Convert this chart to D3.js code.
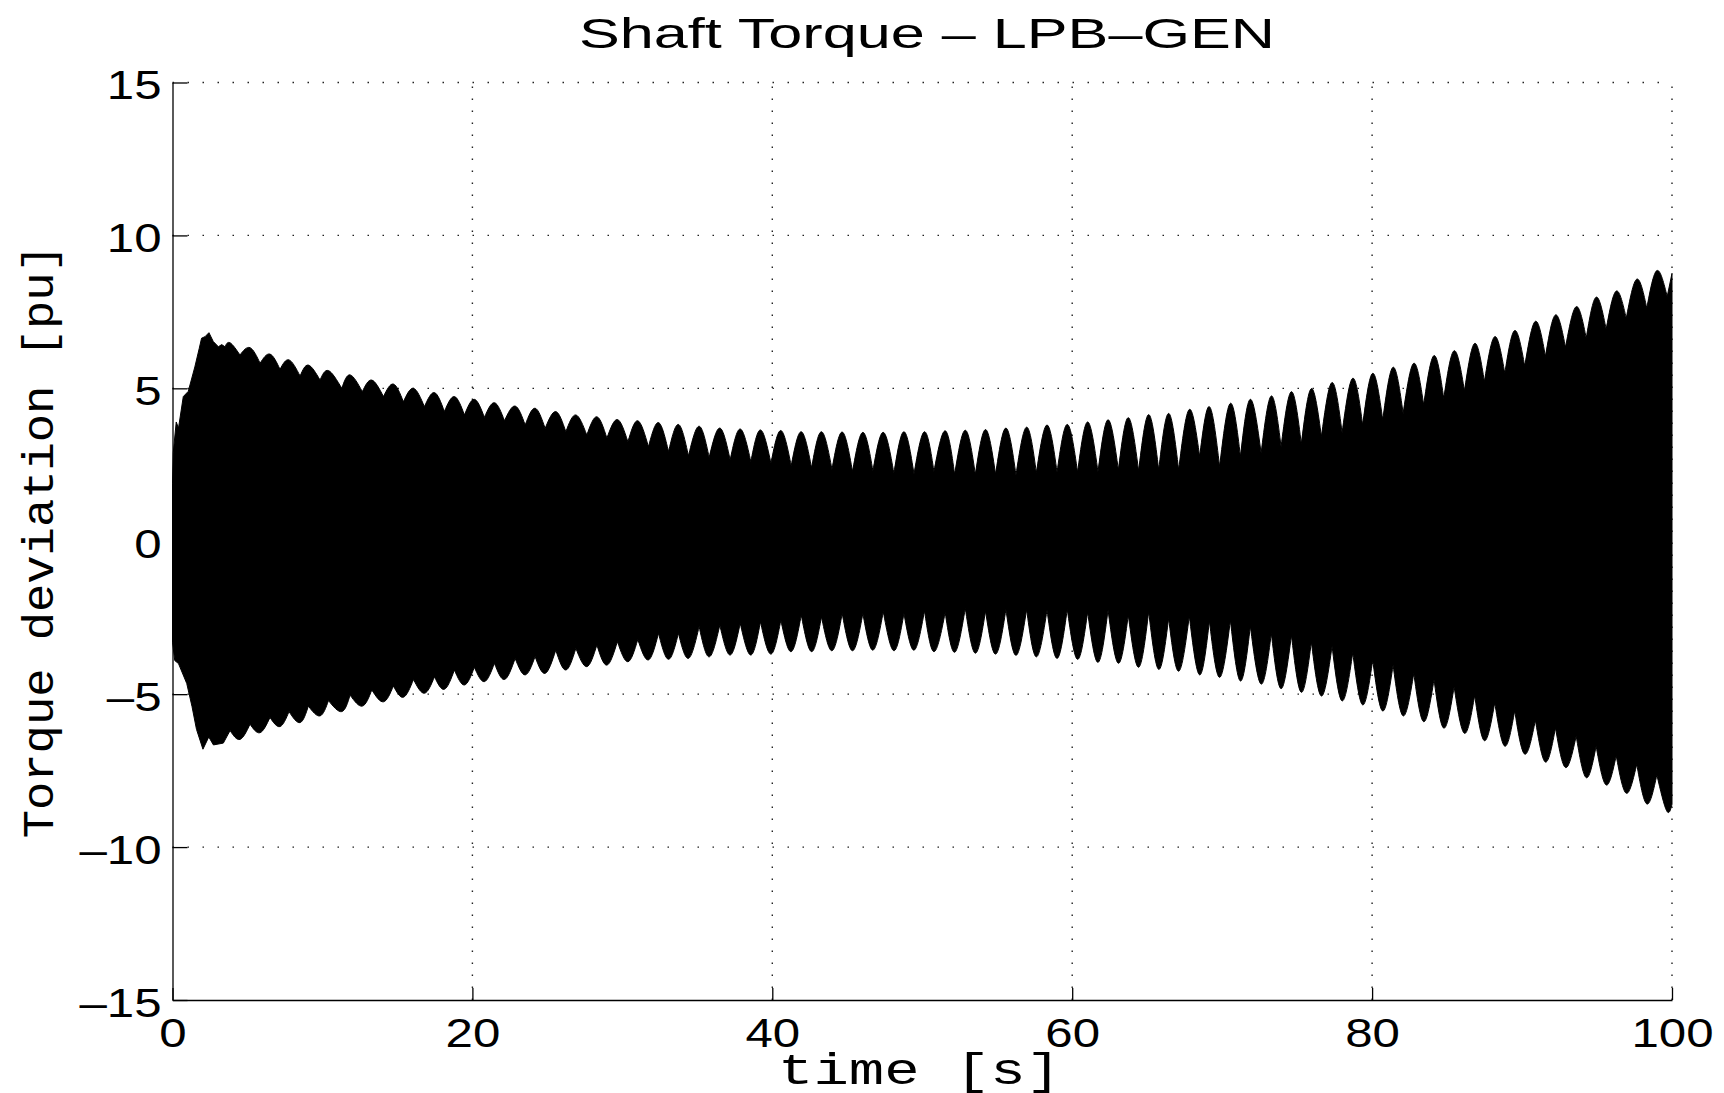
<!DOCTYPE html>
<html>
<head>
<meta charset="utf-8">
<script src="https://cdn.jsdelivr.net/npm/d3@7"></script>
<style>
  body { margin: 0; background: #ffffff; }
  svg { display: block; }
</style>
</head>
<body>
<div id="chart"></div>
<script>
// Axis ticks
const xTicks = [0, 20, 40, 60, 80, 100];
const yTicks = [-15, -10, -5, 0, 5, 10, 15];

// Beat instants (s): top arch peaks / bottom cusps
const beatTime = [3.84, 5.17, 6.50, 7.77, 9.06, 10.40, 11.84, 13.29, 14.73, 16.07, 17.47, 18.80, 20.13, 21.47,
  22.85, 24.18, 25.56, 26.90, 28.30, 29.67, 31.03, 32.41, 33.74, 35.12, 36.50, 37.86, 39.21, 40.57, 41.93,
  43.28, 44.66, 46.04, 47.40, 48.78, 50.15, 51.53, 52.87, 54.22, 55.58, 56.96, 58.32, 59.67, 61.03, 62.39,
  63.74, 65.10, 66.43, 67.81, 69.15, 70.55, 71.88, 73.28, 74.62, 75.95, 77.33, 78.71, 80.04, 81.40, 82.78,
  84.13, 85.47, 86.84, 88.18, 89.51, 90.89, 92.23, 93.61, 94.94, 96.28, 97.65, 98.99];
const topPeak = [6.49, 6.33, 6.12, 5.93, 5.76, 5.58, 5.44, 5.27, 5.14, 5.00, 4.86, 4.73, 4.64, 4.53, 4.42,
  4.35, 4.24, 4.13, 4.07, 3.98, 3.94, 3.88, 3.82, 3.76, 3.70, 3.67, 3.64, 3.62, 3.58, 3.58, 3.57, 3.56, 3.56,
  3.58, 3.58, 3.61, 3.63, 3.65, 3.70, 3.73, 3.80, 3.82, 3.90, 3.97, 4.04, 4.14, 4.18, 4.31, 4.40, 4.51, 4.64,
  4.75, 4.89, 4.99, 5.19, 5.33, 5.49, 5.69, 5.82, 6.07, 6.23, 6.47, 6.69, 6.89, 7.19, 7.40, 7.67, 7.98, 8.18,
  8.57, 8.85];
const bottomCusp = [-6.19, -5.98, -5.76, -5.57, -5.39, -5.21, -5.03, -4.86, -4.73, -4.52, -4.43, -4.21, -4.12,
  -3.99, -3.83, -3.77, -3.56, -3.50, -3.39, -3.28, -3.21, -3.01, -3.01, -2.79, -2.74, -2.68, -2.63, -2.58,
  -2.41, -2.47, -2.36, -2.36, -2.30, -2.36, -2.27, -2.33, -2.19, -2.28, -2.23, -2.23, -2.25, -2.22, -2.31,
  -2.25, -2.41, -2.30, -2.52, -2.44, -2.60, -2.58, -2.77, -3.01, -3.07, -3.29, -3.43, -3.64, -3.88, -4.05,
  -4.32, -4.52, -4.76, -5.04, -5.28, -5.54, -5.85, -6.10, -6.37, -6.70, -7.01, -7.29, -7.64];

// Instants between beats (s): top notches / bottom troughs
const gapTime = [4.50, 5.84, 7.17, 8.51, 9.84, 11.29, 12.66, 14.07, 15.40, 16.80, 18.13, 19.47, 20.80, 22.14,
  23.52, 24.85, 26.23, 27.63, 28.97, 30.37, 31.74, 33.08, 34.41, 35.79, 37.19, 38.57, 39.91, 41.26, 42.62,
  43.98, 45.35, 46.71, 48.11, 49.45, 50.78, 52.16, 53.54, 54.89, 56.25, 57.61, 58.99, 60.36, 61.72, 63.08,
  64.43, 65.77, 67.10, 68.50, 69.83, 71.22, 72.60, 73.93, 75.28, 76.62, 78.00, 79.37, 80.71, 82.07, 83.44,
  84.78, 86.16, 87.49, 88.85, 90.18, 91.56, 92.90, 94.28, 95.61, 96.95, 98.32];
const topNotch = [6.09, 5.82, 5.62, 5.40, 5.27, 5.00, 4.89, 4.73, 4.56, 4.40, 4.24, 4.13, 4.05, 3.94, 3.80,
  3.69, 3.58, 3.47, 3.37, 3.25, 3.09, 2.93, 2.79, 2.74, 2.66, 2.60, 2.55, 2.47, 2.40, 2.35, 2.28, 2.30, 2.22,
  2.20, 2.28, 2.19, 2.19, 2.19, 2.17, 2.24, 2.26, 2.26, 2.27, 2.33, 2.30, 2.33, 2.33, 2.77, 2.44, 2.77, 2.88,
  3.09, 3.18, 3.42, 3.55, 3.80, 3.97, 4.18, 4.46, 4.67, 4.92, 5.22, 5.49, 5.73, 6.04, 6.34, 6.64, 6.93, 7.29,
  7.62];
const bottomTrough = [-6.48, -6.26, -6.06, -5.93, -5.71, -5.57, -5.39, -5.25, -5.10, -4.97, -4.84, -4.70,
  -4.59, -4.52, -4.37, -4.32, -4.21, -4.10, -4.05, -3.94, -3.88, -3.86, -3.83, -3.78, -3.72, -3.72, -3.69,
  -3.61, -3.61, -3.58, -3.58, -3.56, -3.58, -3.56, -3.61, -3.63, -3.66, -3.69, -3.73, -3.78, -3.83, -3.86,
  -3.96, -3.99, -4.12, -4.19, -4.25, -4.37, -4.45, -4.57, -4.67, -4.82, -4.94, -5.06, -5.22, -5.35, -5.55,
  -5.71, -5.90, -6.11, -6.28, -6.52, -6.70, -6.96, -7.22, -7.40, -7.73, -7.97, -8.24, -8.59];

// Start-up transient and end of record [time, value]
const startTop = [[0, 1.9], [0.05, 2.9], [0.25, 3.9], [0.4, 3.7], [0.72, 4.73], [1.05, 4.9], [1.49, 5.7],
  [1.78, 6.3], [1.94, 6.64], [2.17, 6.69], [2.43, 6.82], [2.72, 6.53], [3.06, 6.36], [3.28, 6.43], [3.5, 6.36]];
const startBottom = [[0, -3.3], [0.15, -3.9], [0.4, -4.0], [0.95, -4.65], [1.3, -5.4], [1.6, -6.15],
  [2.03, -6.8], [2.42, -6.4], [2.73, -6.66], [3.39, -6.6]];
const endTop = [[99.68, 8.00], [100, 8.76]];
const endBottom = [[99.64, -8.81], [100, -8.6]];

function drawChart() {
  const width = 1724;
  const height = 1093;
  const margin = { top: 82.5, right: 52, bottom: 93, left: 172.5 };

  const svg = d3.select("#chart")
    .append("svg")
    .attr("width", width)
    .attr("height", height)
    .style("background", "#ffffff");

  const x = d3.scaleLinear()
    .domain([0, 100])
    .range([margin.left, width - margin.right]);

  const y = d3.scaleLinear()
    .domain([-15, 15])
    .range([height - margin.bottom, margin.top]);

  const sans = "'Liberation Sans', Arial, Helvetica, sans-serif";
  const mono = "'Liberation Mono', 'Courier New', monospace";

  // stretch text horizontally like the original export
  function stretch(sel, factor) {
    sel.each(function () {
      const len = this.getComputedTextLength();
      d3.select(this)
        .attr("textLength", len * factor)
        .attr("lengthAdjust", "spacingAndGlyphs");
    });
  }

  // Dotted grid
  svg.append("g")
    .selectAll("line")
    .data(xTicks.filter(d => d > 0))
    .join("line")
    .attr("x1", d => x(d))
    .attr("x2", d => x(d))
    .attr("y1", y(-15))
    .attr("y2", y(15))
    .attr("stroke", "#222")
    .attr("stroke-width", 1.4)
    .attr("stroke-dasharray", "1.5,10.5");

  svg.append("g")
    .selectAll("line")
    .data(yTicks.filter(d => d > -15))
    .join("line")
    .attr("x1", x(0))
    .attr("x2", x(100))
    .attr("y1", d => y(d))
    .attr("y2", d => y(d))
    .attr("stroke", "#222")
    .attr("stroke-width", 1.4)
    .attr("stroke-dasharray", "1.5,13.5");

  // Signal band: rounded arches between sharp cusps
  const line = d3.line().x(d => x(d[0])).y(d => y(d[1]));
  const seg = (pts, curve) => line.curve(curve)(pts);

  const topSegs = [];
  topSegs.push({ pts: startTop, curve: d3.curveLinear });
  topSegs.push({ pts: [startTop[startTop.length - 1], [beatTime[0], topPeak[0]], [gapTime[0], topNotch[0]]], curve: d3.curveNatural });
  for (let i = 1; i < beatTime.length; i++) {
    const next = i < gapTime.length ? [gapTime[i], topNotch[i]] : endTop[0];
    topSegs.push({ pts: [[gapTime[i - 1], topNotch[i - 1]], [beatTime[i], topPeak[i]], next], curve: d3.curveNatural });
  }
  topSegs.push({ pts: endTop, curve: d3.curveLinear });

  const bottomSegs = [];
  bottomSegs.push({ pts: startBottom.concat([[beatTime[0], bottomCusp[0]]]), curve: d3.curveLinear });
  for (let i = 0; i < beatTime.length; i++) {
    const trough = i < gapTime.length ? [gapTime[i], bottomTrough[i]] : endBottom[0];
    const next = i < gapTime.length ? [beatTime[i + 1], bottomCusp[i + 1]] : endBottom[1];
    bottomSegs.push({ pts: [[beatTime[i], bottomCusp[i]], trough, next], curve: d3.curveNatural });
  }

  let d = "";
  topSegs.forEach((s, i) => {
    const p = seg(s.pts, s.curve);
    d += i === 0 ? p : p.replace(/^M/, "L");
  });
  bottomSegs.slice().reverse().forEach(s => {
    d += seg(s.pts.slice().reverse(), s.curve).replace(/^M/, "L");
  });
  d += "Z";

  svg.append("path")
    .attr("d", d)
    .attr("fill", "#000")
    .attr("stroke", "#000")
    .attr("stroke-width", 1)
    .attr("stroke-linejoin", "round");

  // Axes (inward ticks, MATLAB style)
  const xAxis = svg.append("g")
    .attr("transform", `translate(0, ${y(-15)})`)
    .call(d3.axisBottom(x).tickValues(xTicks).tickSizeInner(-12).tickSizeOuter(0).tickPadding(18));

  const yAxis = svg.append("g")
    .attr("transform", `translate(${x(0)}, 0)`)
    .call(d3.axisLeft(y).tickValues(yTicks).tickSizeInner(-15).tickSizeOuter(0).tickPadding(11)
      .tickFormat(v => v < 0 ? "\u2013" + Math.abs(v) : String(v)));

  [xAxis, yAxis].forEach(g => {
    g.select(".domain").attr("stroke", "#000").attr("stroke-width", 1.3);
    g.selectAll(".tick line").attr("stroke", "#000").attr("stroke-width", 1.3);
    g.selectAll(".tick text")
      .attr("fill", "#000")
      .style("font-family", sans)
      .style("font-size", "41px");
  });
  yAxis.selectAll(".tick text").attr("dy", "0.4em");
  stretch(xAxis.selectAll(".tick text"), 1.2);
  stretch(yAxis.selectAll(".tick text"), 1.2);

  // Title
  svg.append("text")
    .attr("x", 927)
    .attr("y", 48)
    .attr("text-anchor", "middle")
    .style("font-family", sans)
    .style("font-size", "42px")
    .attr("textLength", 696)
    .attr("lengthAdjust", "spacingAndGlyphs")
    .text("Shaft Torque \u2013 LPB\u2013GEN");

  // X axis label
  svg.append("text")
    .attr("x", 919.5)
    .attr("y", 1084)
    .attr("text-anchor", "middle")
    .style("font-family", mono)
    .style("font-size", "44px")
    .attr("textLength", 283)
    .attr("lengthAdjust", "spacingAndGlyphs")
    .text("time [s]");

  // Y axis label
  svg.append("text")
    .attr("transform", `translate(53, ${(y(-15) + y(15)) / 2}) rotate(-90)`)
    .attr("text-anchor", "middle")
    .style("font-family", mono)
    .style("font-size", "44px")
    .attr("textLength", 594)
    .attr("lengthAdjust", "spacingAndGlyphs")
    .text("Torque deviation [pu]");
}

drawChart();
</script>
</body>
</html>
